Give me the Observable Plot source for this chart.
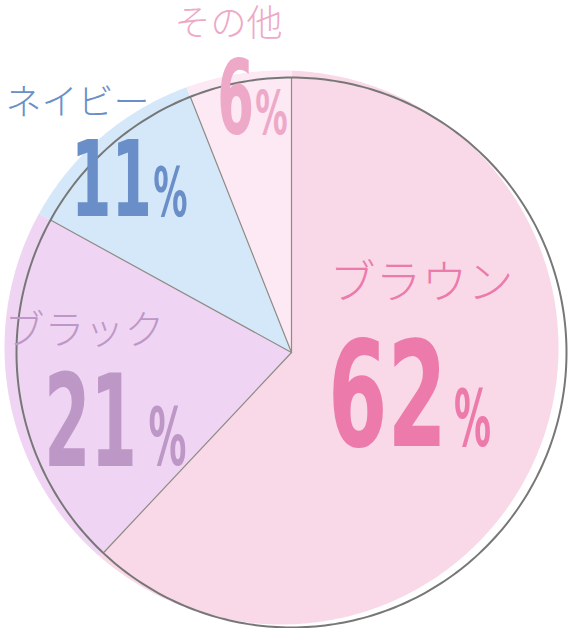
<!DOCTYPE html>
<html><head><meta charset="utf-8">
<script src="https://cdn.jsdelivr.net/npm/d3@7"></script>
<script src="https://cdn.jsdelivr.net/npm/@observablehq/plot@0.6"></script>
<style>body{margin:0;background:#fff;overflow:hidden}</style>
</head><body><div id="chart"></div>
<script>
const categories = ["ブラウン", "ブラック", "ネイビー", "その他"];
const shares = [62, 21, 11, 6];
const fillColors = ["#f9d9e7", "#efd5f3", "#d5e8fa", "#fce9f3"];
const textColors = ["#ec7aab", "#bd98c7", "#6a8fc8", "#eea8c8"];

const W = 568, H = 628;
const center = [291, 352];          // outline / wedge center
const outlineR = 275;
const fillC = [281, 347], fillR = 277; // offset fill disc

const arcs = d3.pie().sort(null).value(d => d)(shares);

function rayToCircle(a, C, R) {
  const dx = Math.sin(a), dy = -Math.cos(a);
  const ox = center[0] - C[0], oy = center[1] - C[1];
  const b = ox * dx + oy * dy;
  const t = -b + Math.sqrt(b * b - (ox * ox + oy * oy) + R * R);
  return [center[0] + t * dx, center[1] + t * dy];
}

const fillPts = [];
arcs.forEach((arc, i) => {
  fillPts.push({k: i, x: center[0], y: center[1]});
  const n = Math.max(2, Math.ceil((arc.endAngle - arc.startAngle) / 0.01));
  for (let j = 0; j <= n; j++) {
    const a = arc.startAngle + (arc.endAngle - arc.startAngle) * j / n;
    const [x, y] = rayToCircle(a, fillC, fillR);
    fillPts.push({k: i, x, y});
  }
});

const circlePts = d3.range(0, 361).map(d => {
  const a = d * Math.PI / 180;
  return {x: center[0] + outlineR * Math.sin(a), y: center[1] - outlineR * Math.cos(a)};
});

const spokes = [];
arcs.forEach((arc, i) => {
  spokes.push({k: i, x: center[0], y: center[1]});
  spokes.push({k: i, x: center[0] + outlineR * Math.sin(arc.startAngle), y: center[1] - outlineR * Math.cos(arc.startAngle)});
});

// label layout: name position, number position, % position, sizes, horizontal condense factors
const labels = [
  {name: categories[0], nx: 421, ny: 283, ns: 46, num: String(shares[0]), px: 387, py: 445, ps: 146, sx: 0.65, qx: 472, qy: 445, qs: 79, qsx: 0.52},
  {name: categories[1], nx: 84,  ny: 331, ns: 40, num: String(shares[1]), px: 90,  py: 465, ps: 128, sx: 0.58, qx: 167, qy: 464, qs: 81, qsx: 0.52},
  {name: categories[2], nx: 77,  ny: 103, ns: 36, num: String(shares[2]), px: 111, py: 215, ps: 106, sx: 0.61, qx: 170, qy: 215, qs: 68, qsx: 0.56},
  {name: categories[3], nx: 228, ny: 24,  ns: 36, num: String(shares[3]), px: 235, py: 133, ps: 103, sx: 0.57, qx: 271, qy: 133, qs: 60, qsx: 0.6}
].map((d, i) => ({...d, color: textColors[i]}));

const numFont = "'Liberation Sans Narrow', 'DejaVu Sans Condensed', 'Roboto', sans-serif";
const jpFont = "'Noto Sans CJK JP', sans-serif";

const chart = Plot.plot({
  width: W, height: H,
  margin: 0,
  x: {domain: [0, W], range: [0, W], axis: null},
  y: {domain: [0, H], range: [0, H], axis: null},
  marks: [
    Plot.line(fillPts, {x: "x", y: "y", z: "k", fill: d => fillColors[d.k], stroke: "none", curve: "linear-closed"}),
    Plot.line(spokes, {x: "x", y: "y", z: "k", stroke: "#8d8b84", strokeWidth: 1.2}),
    Plot.line(circlePts, {x: "x", y: "y", stroke: "#777", strokeWidth: 2}),
    Plot.text(labels, {x: "nx", y: "ny", text: "name", fill: "color", fontSize: "ns", fontFamily: jpFont, fontWeight: 300, textAnchor: "middle", lineAnchor: "middle", className: "jp"}),
    Plot.text(labels, {x: "px", y: "py", text: "num", fill: "color", fontSize: "ps", fontFamily: numFont, fontWeight: "bold", textAnchor: "middle", lineAnchor: "bottom", className: "num"}),
    Plot.text(labels, {x: "qx", y: "qy", text: d => "%", fill: "color", fontSize: "qs", fontFamily: numFont, fontWeight: "bold", textAnchor: "middle", lineAnchor: "bottom", className: "pct"})
  ]
});
document.getElementById("chart").appendChild(chart);

// condense the numerals horizontally
function condense(sel, key) {
  d3.select(chart).selectAll(sel).each(function(_, i) {
    const s = labels[i][key];
    const t = d3.select(this);
    const tr = t.attr("transform") || "";
    t.attr("transform", tr + ` scale(${s},1)`);
    const x = t.attr("x");
    if (x != null) t.attr("x", +x / s);
  });
}
condense(".num text", "sx");
condense(".pct text", "qsx");
</script></body></html>
